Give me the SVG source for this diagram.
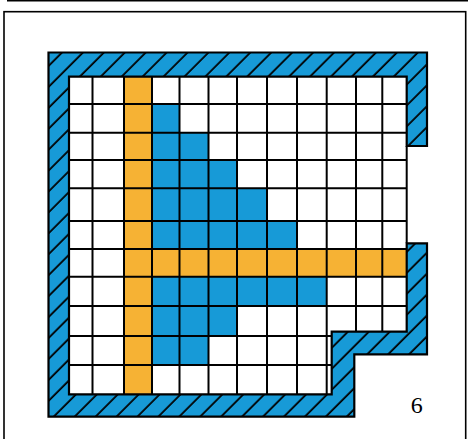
<svg xmlns="http://www.w3.org/2000/svg" width="468" height="439" viewBox="0 0 468 439">
  <defs>
    <pattern id="hatch" patternUnits="userSpaceOnUse" width="14.8" height="14.8" patternTransform="rotate(45)">
      <rect x="0" y="0" width="14.8" height="14.8" fill="#179AD7"/>
      <line x1="7" y1="-1" x2="7" y2="16" stroke="#000" stroke-width="1.8"/>
    </pattern>
    <style>
      .grid { stroke: #000; stroke-width: 2; fill: none; }
      .blue { fill: #179AD7; }
      .orange { fill: #F6B234; }
      .frame { stroke: #000; stroke-width: 1.6; fill: none; }
      .wall { fill: url(#hatch); stroke: #000; stroke-width: 2.2; stroke-linejoin: miter; }
      .label { font-family: "Liberation Serif", "Times New Roman", serif; font-size: 24px; fill: #000; }
    </style>
  </defs>

  <rect x="0" y="0" width="468" height="439" fill="#fff"/>

  <g id="frame">
    <line class="frame" x1="7" y1="0.8" x2="468" y2="0.8"/>
    <rect class="frame" x="4" y="11.7" width="461.7" height="440"/>
  </g>

  <g id="floor">
    <rect x="69" y="76.7" width="337.7" height="317.6" fill="#fff"/>
  </g>

  <g id="blue-region">
    <rect class="blue" x="152" y="104" width="27.5" height="28.7"/>
    <rect class="blue" x="152" y="132.7" width="56.5" height="27.3"/>
    <rect class="blue" x="152" y="160" width="85" height="28.3"/>
    <rect class="blue" x="152" y="188.3" width="115" height="32.7"/>
    <rect class="blue" x="152" y="221" width="145" height="28"/>
    <rect class="blue" x="152" y="276.7" width="174.7" height="29.3"/>
    <rect class="blue" x="152" y="306" width="85" height="30"/>
    <rect class="blue" x="152" y="336" width="56.5" height="29"/>
  </g>

  <g id="orange-cross">
    <rect class="orange" x="124" y="76.7" width="28" height="317.6"/>
    <rect class="orange" x="124" y="249" width="282.7" height="27.7"/>
  </g>

  <g id="grid">
    <path class="grid" d="
      M69,104 H406.7 M69,132.7 H406.7 M69,160 H406.7 M69,188.3 H406.7
      M69,221 H406.7 M69,249 H406.7 M69,276.7 H406.7 M69,306 H406.7
      M69,336 H331.7 M69,365 H331.7
      M92.5,76.7 V394.3 M124,76.7 V394.3 M152,76.7 V394.3 M179.5,76.7 V394.3
      M208.5,76.7 V394.3 M237,76.7 V394.3 M267,76.7 V394.3 M297,76.7 V394.3
      M326.7,76.7 V394.3 M356,76.7 V331.7 M382.3,76.7 V331.7
      M406.7,146 V243.3"/>
  </g>

  <g id="wall">
    <path class="wall" d="M48.5,52.5 H427 V146 H406.7 V76.7 H69 V394.3 H331.7 V331.7 H406.7 V243.3 H427 V354.3 H354.3 V416.7 H48.5 Z"/>
  </g>

  <g id="label">
    <text class="label" x="416.7" y="412.5" text-anchor="middle">6</text>
  </g>
</svg>
